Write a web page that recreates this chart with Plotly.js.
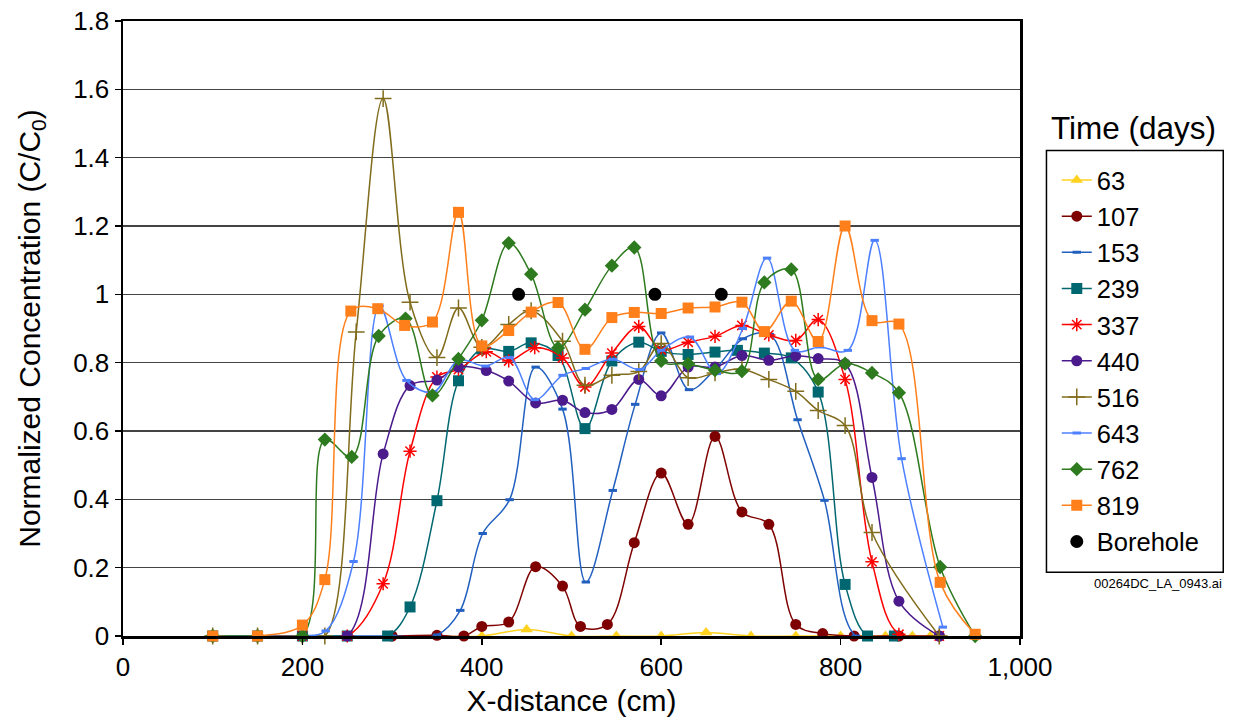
<!DOCTYPE html>
<html>
<head>
<meta charset="utf-8">
<script src="https://cdn.plot.ly/plotly-3.0.1.min.js"></script>
<style>
html,body{margin:0;padding:0;background:#fff;}
#chart{width:1234px;height:724px;}
</style>
</head>
<body>
<div id="chart"></div>
<script>
// ---- data ----
const seriesNames = ["63","107","153","239","337","440","516","643","762","819"];

const x63  = [350,400,450,500,550,600,650,700,750,800,850,880,900];
const y63  = [0,0,0.019,0,0,0,0.010,0,0,0,0,0,0];

const x107 = [300,350,380,400,430,460,490,510,540,570,600,630,660,690,720,750,780,815,865,910];
const y107 = [0,0.002,0,0.028,0.041,0.203,0.146,0.028,0.034,0.273,0.477,0.327,0.584,0.363,0.327,0.034,0.007,0,0,0];

const x153 = [100,150,200,250,300,350,376,401,431,460,490,516,546,571,600,631,660,691,721,752,782,817,860];
const y153 = [0,0,0,0,0,0.003,0.075,0.300,0.399,0.787,0.664,0.158,0.426,0.678,0.887,0.721,0.780,0.870,0.883,0.633,0.397,0,0];

const x239 = [100,150,200,250,295,320,350,374,400,430,455,485,515,545,575,600,630,660,685,715,745,775,805,830,860];
const y239 = [0,0,0,0,0,0.085,0.396,0.747,0.840,0.833,0.858,0.821,0.607,0.805,0.860,0.833,0.824,0.831,0.836,0.828,0.814,0.714,0.151,0,0];

const x337 = [100,150,200,250,290,320,350,374,405,430,459,490,515,545,575,600,630,660,690,720,750,775,805,835,865,910];
const y337 = [0,0,0,0,0.153,0.541,0.758,0.780,0.832,0.805,0.844,0.814,0.729,0.828,0.906,0.838,0.860,0.877,0.909,0.881,0.865,0.926,0.751,0.217,0.005,0];

const x440 = [100,150,200,250,290,320,350,374,405,430,460,490,515,545,575,600,630,660,690,720,750,775,805,835,865,910];
const y440 = [0,0,0,0,0.533,0.733,0.749,0.787,0.777,0.746,0.682,0.690,0.654,0.663,0.751,0.703,0.787,0.787,0.821,0.807,0.820,0.812,0.797,0.464,0.102,0];

const x516 = [100,150,200,225,260,290,320,350,374,400,430,455,490,515,545,575,600,630,660,690,720,750,775,805,835,910];
const y516 = [0,0,0,0,0.890,1.573,0.977,0.815,0.960,0.845,0.912,0.952,0.863,0.734,0.763,0.774,0.856,0.756,0.770,0.781,0.751,0.716,0.660,0.616,0.303,0];

const x643 = [100,150,200,226,257,286,316,346,374,404,431,459,490,516,546,576,600,632,662,691,718,749,777,808,838,868,914];
const y643 = [0,0,0,0.015,0.218,0.966,0.748,0.714,0.807,0.790,0.815,0.692,0.763,0.783,0.810,0.780,0.836,0.875,0.768,0.900,1.106,0.836,0.846,0.836,1.158,0.519,0.026];

const x762 = [100,150,200,225,255,285,315,345,374,400,430,455,485,515,545,570,600,630,660,690,715,745,775,805,835,865,911,950];
const y762 = [0,0,0,0.575,0.524,0.878,0.929,0.704,0.811,0.924,1.150,1.059,0.843,0.955,1.084,1.137,0.805,0.797,0.778,0.775,1.035,1.073,0.751,0.797,0.770,0.712,0.202,0];

const x819 = [100,150,200,225,254,284,314,345,374,400,430,455,485,515,545,570,600,630,660,690,715,745,775,805,835,865,911,950];
const y819 = [0,0,0.032,0.165,0.951,0.958,0.909,0.919,1.240,0.849,0.894,0.948,0.976,0.839,0.932,0.947,0.944,0.960,0.963,0.977,0.891,0.980,0.862,1.200,0.923,0.913,0.157,0.005];

const xBore = [441,593,667];
const yBore = [1,1,1];

const xTicks = [0,200,400,600,800,1000];
const yTicks = [0,0.2,0.4,0.6,0.8,1,1.2,1.4,1.6,1.8];

// ---- styling ----
const FONT = '"Liberation Sans", Arial, Helvetica, sans-serif';
const styles = {
  "63":  {color:'#FFD21F', symbol:'triangle-up', size:11},
  "107": {color:'#7F0000', symbol:'circle', size:11},
  "153": {color:'#2260C0', symbol:'line-ew', size:6, lineMarker:true, lw:3},
  "239": {color:'#006770', symbol:'square', size:11},
  "337": {color:'#FF0000', symbol:'asterisk-open', size:11, lineMarker:true, lw:1.5},
  "440": {color:'#4B1A8C', symbol:'circle', size:11},
  "516": {color:'#806C1C', symbol:'cross-thin-open', size:12, lineMarker:true, lw:1.5},
  "643": {color:'#4C80FF', symbol:'line-ew', size:6, lineMarker:true, lw:3},
  "762": {color:'#2E7A1E', symbol:'diamond', size:11},
  "819": {color:'#FF7F1A', symbol:'square', size:11}
};
const xs = {"63":x63,"107":x107,"153":x153,"239":x239,"337":x337,"440":x440,"516":x516,"643":x643,"762":x762,"819":x819};
const ys = {"63":y63,"107":y107,"153":y153,"239":y239,"337":y337,"440":y440,"516":y516,"643":y643,"762":y762,"819":y819};

const traces = seriesNames.map((n) => {
  const s = styles[n];
  const marker = {symbol:s.symbol, size:s.size, color:s.color};
  if (s.lineMarker) marker.line = {color:s.color, width:s.lw};
  else marker.line = {width:0};
  return {
    type:'scatter', mode:'lines+markers', name:n,
    x:xs[n], y:ys[n],
    line:{color:s.color, width:1.5, shape:'spline', smoothing:1},
    marker:marker, cliponaxis:false, legendgroup:n
  };
});
traces.push({
  type:'scatter', mode:'markers', name:'Borehole',
  x:xBore, y:yBore, cliponaxis:false, legendgroup:'bore',
  marker:{symbol:'circle', size:13, color:'#000000'}
});

const layout = {
  width:1234, height:724,
  margin:{l:122.5, r:213.5, t:20.5, b:88.3, pad:0},
  paper_bgcolor:'#ffffff', plot_bgcolor:'#ffffff',
  font:{family:FONT, color:'#000', size:26},
  showlegend:true,
  xaxis:{
    range:[0,1000], tickvals:xTicks, tickformat:',d', separatethousands:true,
    showgrid:false, zeroline:false,
    showline:true, linecolor:'#000', linewidth:2.5, mirror:true,
    ticks:'outside', ticklen:6, tickwidth:1.5, tickcolor:'#000',
    tickfont:{family:FONT, size:26, color:'#000'},
    title:{text:'X-distance (cm)', font:{family:FONT, size:30, color:'#000'}, standoff:10}
  },
  yaxis:{
    range:[0,1.8], tickvals:yTicks,
    showgrid:true, gridcolor:'#444', gridwidth:1.5, zeroline:false,
    showline:true, linecolor:'#000', linewidth:2.5, mirror:true,
    ticks:'outside', ticklen:6, tickwidth:1.5, tickcolor:'#000',
    tickfont:{family:FONT, size:26, color:'#000'},
    title:{text:'Normalized Concentration (C/C<sub>0</sub>)', font:{family:FONT, size:30, color:'#000'}, standoff:24}
  },
  legend:{
    x:1.041, xanchor:'left', y:0.779, yanchor:'top',
    bgcolor:'rgba(0,0,0,0)', borderwidth:0,
    font:{family:FONT, size:25.5, color:'#000'},
    tracegroupgap:0
  },
  shapes:[{
    type:'rect', xref:'paper', yref:'paper',
    x0:1.0295, x1:1.2266, y0:0.1038, y1:0.7895,
    line:{color:'#000', width:1.5}, fillcolor:'rgba(0,0,0,0)'
  }],
  annotations:[
    {text:'Time (days)', xref:'paper', yref:'paper', x:1.1265, y:0.826, xanchor:'center', yanchor:'middle',
     showarrow:false, font:{family:FONT, size:31.5, color:'#000'}},
    {text:'00264DC_LA_0943.ai', xref:'paper', yref:'paper', x:1.2277, y:0.0857, xanchor:'right', yanchor:'middle',
     showarrow:false, font:{family:FONT, size:13, color:'#000'}}
  ]
};

Plotly.newPlot('chart', traces, layout, {staticPlot:true, displayModeBar:false});
</script>
</body>
</html>
